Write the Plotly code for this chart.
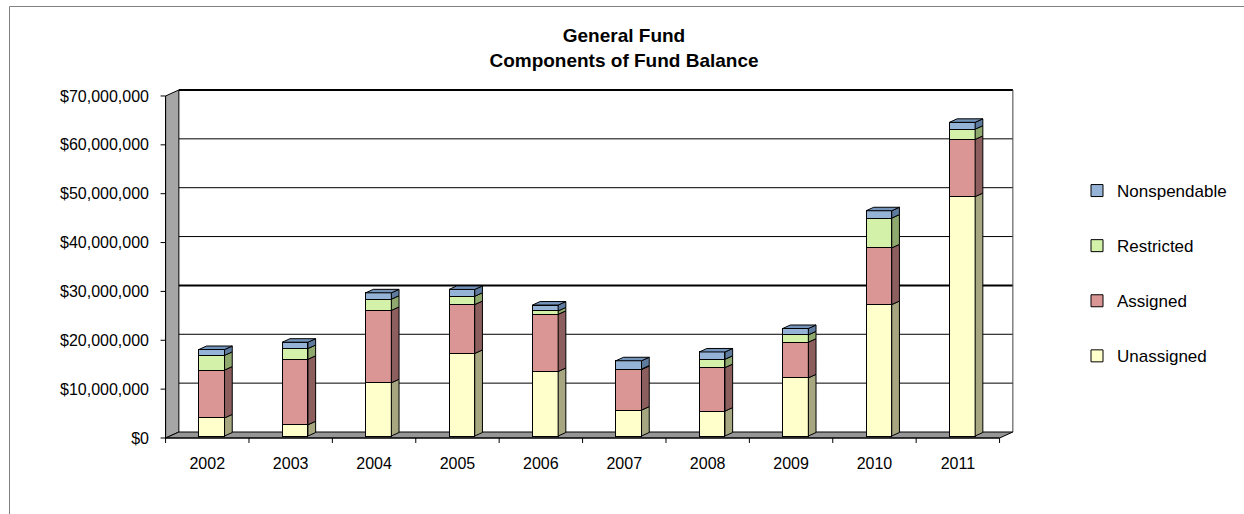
import plotly.graph_objects as go

# ---- data -------------------------------------------------------------
years = ["2002", "2003", "2004", "2005", "2006", "2007", "2008", "2009", "2010", "2011"]
unassigned = [3_700_000, 2_300_000, 10_900_000, 16_900_000, 13_200_000,
              5_300_000, 5_100_000, 11_900_000, 26_900_000, 49_000_000]
assigned = [9_800_000, 13_400_000, 14_800_000, 10_000_000, 11_700_000,
            8_300_000, 8_900_000, 7_300_000, 11_600_000, 11_700_000]
restricted = [3_000_000, 2_200_000, 2_300_000, 1_700_000, 700_000,
              100_000, 1_700_000, 1_500_000, 6_100_000, 2_100_000]
nonspendable = [1_200_000, 1_300_000, 1_300_000, 1_400_000, 1_200_000,
                1_700_000, 1_500_000, 1_300_000, 1_500_000, 1_400_000]
y_ticks = [0, 10_000_000, 20_000_000, 30_000_000, 40_000_000,
           50_000_000, 60_000_000, 70_000_000]
y_tick_text = ["$" + f"{v:,}" for v in y_ticks]

# (name, values, front colour, side colour) in stacking order, bottom first
series = [
    ("Unassigned", unassigned, "#FFFFCC", "#A6A680"),
    ("Assigned", assigned, "#DA9694", "#8C5F5E"),
    ("Restricted", restricted, "#D3F1A9", "#8EA86E"),
    ("Nonspendable", nonspendable, "#95B3D7", "#5E7B9E"),
]
top_face_color = "#7393BA"

# ---- pseudo-3D geometry (category units / value units) -----------------
BAR_W = 0.308
DEPTH_X, DEPTH_Y = 0.0923, 716_000        # depth of each column
BACK_X, BACK_Y = 0.1063, 819_000          # back wall offset from column faces
FRONT_X, FRONT_Y = -0.0531, -409_000      # front axis offset from column faces
Y_MAX = y_ticks[-1]
n = len(years)
idx = list(range(n))

X_RANGE = [-0.6199, 9.644]
Y_RANGE = [-2_047_000, 71_224_000]

FONT = "Liberation Sans, Arial, sans-serif"

fig = go.Figure()

# front faces of the stacked columns (legend lists the top segment first)
for k, (name, vals, front, side) in enumerate(series):
    fig.add_trace(go.Bar(
        x=idx, y=vals, name=name, width=BAR_W,
        marker=dict(color=front, line=dict(color="black", width=1)),
        legendgroup=name, legendrank=len(series) - k, hoverinfo="skip",
    ))

# side faces of every segment, and the top face of every column
cum = [0] * n
for name, vals, front, side in series:
    xs, ys = [], []
    for i in idx:
        b, t = cum[i], cum[i] + vals[i]
        xr = i + BAR_W / 2
        xs += [xr, xr + DEPTH_X, xr + DEPTH_X, xr, xr, None]
        ys += [b, b + DEPTH_Y, t + DEPTH_Y, t, b, None]
        cum[i] = t
    fig.add_trace(go.Scatter(
        x=xs, y=ys, mode="lines", fill="toself", fillcolor=side,
        line=dict(color="black", width=1), showlegend=False, hoverinfo="skip",
    ))

xs, ys = [], []
for i in idx:
    xl, xr, t = i - BAR_W / 2, i + BAR_W / 2, cum[i]
    xs += [xl, xl + DEPTH_X, xr + DEPTH_X, xr, xl, None]
    ys += [t, t + DEPTH_Y, t + DEPTH_Y, t, t, None]
fig.add_trace(go.Scatter(
    x=xs, y=ys, mode="lines", fill="toself", fillcolor=top_face_color,
    line=dict(color="black", width=1), showlegend=False, hoverinfo="skip",
))

# carrier trace for the front (label) axes
fig.add_trace(go.Scatter(
    x=[0], y=[0], xaxis="x2", yaxis="y2", mode="markers",
    marker=dict(opacity=0), showlegend=False, hoverinfo="skip",
))

# ---- walls, floor, gridlines and front axes -----------------------------
def poly(points):
    return "M " + " L ".join(f"{x},{y}" for x, y in points) + " Z"

bx0, bx1 = -0.5 + BACK_X, n - 0.5 + BACK_X
fx0, fx1 = -0.5 + FRONT_X, n - 0.5 + FRONT_X
shapes = []
# back wall
shapes.append(dict(type="rect", xref="x", yref="y", x0=bx0, x1=bx1,
                   y0=BACK_Y, y1=Y_MAX + BACK_Y, fillcolor="white",
                   line=dict(width=0), layer="below"))
# gridlines on the back wall
for v in y_ticks[1:]:
    w = 2 if v in (30_000_000, Y_MAX) else 1
    shapes.append(dict(type="line", xref="x", yref="y", x0=bx0, x1=bx1,
                       y0=v + BACK_Y, y1=v + BACK_Y,
                       line=dict(color="black", width=w), layer="below"))
shapes.append(dict(type="line", xref="x", yref="y", x0=bx1, x1=bx1,
                   y0=BACK_Y, y1=Y_MAX + BACK_Y,
                   line=dict(color="#404040", width=1), layer="below"))
# side wall
shapes.append(dict(type="path", xref="x", yref="y",
                   path=poly([(fx0, FRONT_Y), (bx0, BACK_Y),
                              (bx0, Y_MAX + BACK_Y), (fx0, Y_MAX + FRONT_Y)]),
                   fillcolor="#A6A6A6", line=dict(color="black", width=1),
                   layer="below"))
# floor
shapes.append(dict(type="path", xref="x", yref="y",
                   path=poly([(fx0, FRONT_Y), (fx1, FRONT_Y),
                              (bx1, BACK_Y), (bx0, BACK_Y)]),
                   fillcolor="#969696", line=dict(color="black", width=1),
                   layer="below"))
# front value axis with ticks
shapes.append(dict(type="line", xref="x", yref="y", x0=fx0, x1=fx0,
                   y0=FRONT_Y, y1=Y_MAX + FRONT_Y,
                   line=dict(color="black", width=1)))
for v in y_ticks:
    shapes.append(dict(type="line", xref="x", yref="y", x0=fx0 - 0.06, x1=fx0,
                       y0=v + FRONT_Y, y1=v + FRONT_Y,
                       line=dict(color="black", width=1)))
# front category axis with ticks
shapes.append(dict(type="line", xref="x", yref="y", x0=fx0, x1=fx1,
                   y0=FRONT_Y, y1=FRONT_Y, line=dict(color="black", width=1)))
for k in range(n + 1):
    xk = k - 0.5 + FRONT_X
    shapes.append(dict(type="line", xref="x", yref="y", x0=xk, x1=xk,
                       y0=FRONT_Y, y1=FRONT_Y - 1_020_000,
                       line=dict(color="black", width=1)))
# chart border
W, H, L, R, T, B = 1244, 514, 160, 228, 88, 68
pw, ph = W - L - R, H - T - B
shapes.append(dict(type="rect", xref="paper", yref="paper",
                   x0=(9.5 - L) / pw, x1=(W + 20 - L) / pw,
                   y0=(H - B - (H + 20)) / ph, y1=(H - B - 6.5) / ph,
                   line=dict(color="#808080", width=1), fillcolor="rgba(0,0,0,0)"))

fig.update_layout(
    width=W, height=H,
    margin=dict(l=L, r=R, t=T, b=B, pad=0),
    barmode="stack",
    paper_bgcolor="white", plot_bgcolor="rgba(0,0,0,0)",
    font=dict(family=FONT, color="black", size=16),
    title=dict(text="<b>General Fund<br>Components of Fund Balance</b>",
               x=624 / W, xref="container", xanchor="center",
               y=1 - 42 / H, yref="container", yanchor="top",
               font=dict(family=FONT, size=19, color="black")),
    xaxis=dict(range=X_RANGE, showgrid=False, zeroline=False, showline=False,
               showticklabels=False, ticks="", fixedrange=True),
    yaxis=dict(range=Y_RANGE, showgrid=False, zeroline=False, showline=False,
               showticklabels=False, ticks="", fixedrange=True),
    xaxis2=dict(range=[X_RANGE[0] - FRONT_X, X_RANGE[1] - FRONT_X],
                overlaying="x", anchor="y2", side="bottom",
                tickvals=idx, ticktext=years, ticks="", showgrid=False,
                zeroline=False, showline=False, ticklabelstandoff=6,
                tickfont=dict(size=16)),
    yaxis2=dict(range=[Y_RANGE[0] - FRONT_Y, Y_RANGE[1] - FRONT_Y],
                overlaying="y", anchor="x2", side="left",
                tickvals=y_ticks, ticktext=y_tick_text, ticks="",
                showgrid=False, zeroline=False, showline=False,
                ticklabelstandoff=10, tickfont=dict(size=16)),
    legend=dict(x=1077 / W, xref="container", xanchor="left",
                y=1 - 173 / H, yref="container", yanchor="top",
                traceorder="grouped", tracegroupgap=30,
                font=dict(family=FONT, size=17), bgcolor="rgba(0,0,0,0)"),
    shapes=shapes,
    showlegend=True,
)

fig.write_html("out.html")
